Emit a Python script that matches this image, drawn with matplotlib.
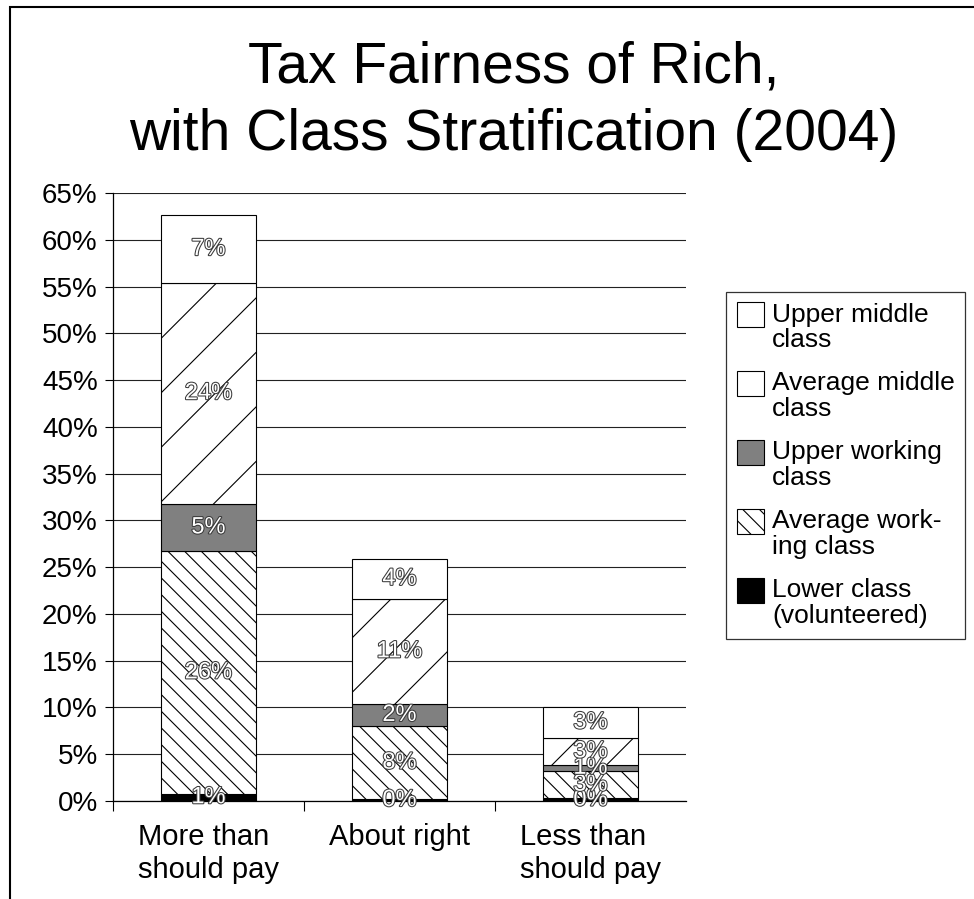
import matplotlib
matplotlib.use("Agg")
import matplotlib.pyplot as plt
import matplotlib.patheffects as pe
from matplotlib.lines import Line2D
from matplotlib.patches import Rectangle
from matplotlib.legend_handler import HandlerPatch
from matplotlib.transforms import IdentityTransform
import numpy as np

# Opinion on how much the rich pay in taxes, split by self-reported class (% of all answers)
answers = ["More than\nshould pay", "About right", "Less than\nshould pay"]
class_names = ["Lower class\n(volunteered)", "Average work-\ning class", "Upper working\nclass",
               "Average middle\nclass", "Upper middle\nclass"]
lower_class = [0.8, 0.2, 0.3]
average_working = [25.9, 7.8, 2.9]
upper_working = [5.1, 2.4, 0.7]
average_middle = [23.6, 11.2, 2.8]
upper_middle = [7.2, 4.3, 3.4]
y_ticks = list(range(0, 66, 5))
title_lines = ["Tax Fairness of Rich,", "with Class Stratification (2004)"]

series = [lower_class, average_working, upper_working, average_middle, upper_middle]
fills = ["black", "white", "#808080", "white", "white"]
hatches = [None, "\\\\", None, None, None]

plt.rcParams["font.family"] = ["Liberation Sans", "DejaVu Sans"]
plt.rcParams["hatch.linewidth"] = 0.8

W, H = 974, 899
fig = plt.figure(figsize=(W / 100, H / 100), dpi=100)
ax = fig.add_axes([113 / W, 98 / H, 573 / W, 608 / H])

x = np.arange(len(answers))
bottom = np.zeros(len(answers))
containers = []
outline = [pe.withStroke(linewidth=1.5, foreground="#3a3a3a")]
for name, vals, fc, hatch in zip(class_names, series, fills, hatches):
    bc = ax.bar(x, vals, 0.5, bottom=bottom, facecolor=fc, hatch=hatch,
                edgecolor="black", linewidth=0.8, label=name, zorder=2)
    containers.append(bc)
    for xi, v, b in zip(x, vals, bottom):
        ax.text(xi, b + v / 2, f"{round(v)}%", ha="center", va="center",
                fontsize=17, color="white", path_effects=outline, zorder=5)
    bottom += np.array(vals)

ax.set_xlim(-0.5, len(answers) - 0.5)
ax.set_ylim(0, 65)
ax.set_yticks(y_ticks)
ax.set_yticklabels([f"{t}%" for t in y_ticks])
ax.yaxis.grid(True, color="#222222", linewidth=0.8)
ax.set_axisbelow(True)
for side in ["top", "right"]:
    ax.spines[side].set_visible(False)
for side in ["left", "bottom"]:
    ax.spines[side].set_linewidth(0.9)
ax.tick_params(axis="y", length=6, width=0.8, labelsize=20, pad=5)
ax.set_xticks(x)
ax.set_xticklabels(answers, fontsize=21, linespacing=1.2, multialignment="left")
ax.set_xticks(np.arange(-0.5, len(answers) - 1), minor=True)
ax.tick_params(axis="x", which="major", length=0, pad=16)
ax.tick_params(axis="x", which="minor", length=7, width=0.8)

# sparse diagonal lines across the average middle class segments
step = 54.5
for patch in containers[3].patches:
    (x0, y0), (x1, y1) = ax.transData.transform(
        [(patch.get_x(), patch.get_y()),
         (patch.get_x() + patch.get_width(), patch.get_y() + patch.get_height())])
    k0 = int(np.floor((y0 - x1 - 345) / step))
    k1 = int(np.ceil((y1 - x0 - 345) / step))
    for k in range(k0, k1 + 1):
        d = 345 + k * step
        ln = Line2D([x0, x1], [x0 + d, x1 + d], transform=IdentityTransform(),
                    color="black", linewidth=0.8, zorder=3)
        ax.add_artist(ln)
        ln.set_clip_path(patch)


def first_line_patch(legend, orig_handle, xdescent, ydescent, width, height, fontsize):
    return Rectangle((-xdescent, -ydescent + 9.6), width, height)


leg = ax.legend(handles=[c.patches[0] for c in containers[::-1]],
                labels=class_names[::-1],
                loc="upper left", bbox_to_anchor=(726 / W, 1 - 292 / H),
                bbox_transform=fig.transFigure, borderaxespad=0, fontsize=19,
                frameon=True, fancybox=False, edgecolor="black",
                handlelength=1.05, handleheight=1.05, handletextpad=0.3,
                labelspacing=0.72, borderpad=0.4,
                handler_map={Rectangle: HandlerPatch(patch_func=first_line_patch)})
leg.get_frame().set_linewidth(0.9)
for t in leg.get_texts():
    t.set_linespacing(1.1)

for line, base in zip(title_lines, [82, 150]):
    fig.text(514 / W, 1 - base / H, line, ha="center", va="baseline", fontsize=41)

# chart frame on the left and top
fig.patches.append(Rectangle((10 / W, -0.5), 2, 0.5 + 1 - 7 / H, transform=fig.transFigure,
                             fill=False, edgecolor="black", linewidth=1.5))

fig.savefig("out.png", dpi=100)
